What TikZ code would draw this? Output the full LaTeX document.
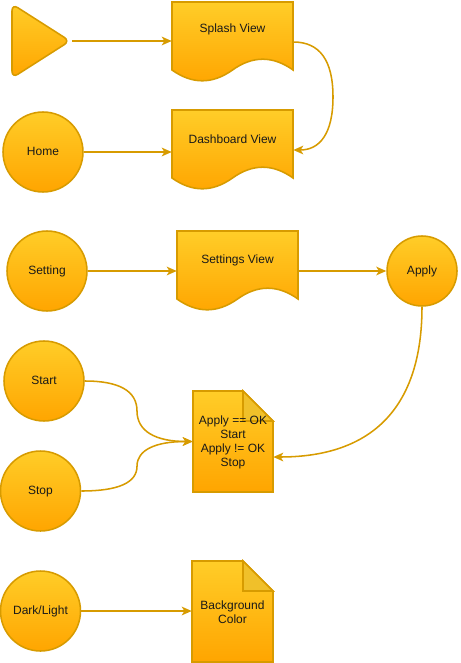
\documentclass[tikz,border=0pt]{standalone}
\usepackage{fontspec}
\setmainfont{Liberation Sans}
\usetikzlibrary{arrows.meta,calc}
\definecolor{fillTop}{HTML}{FFCD28}
\definecolor{fillBot}{HTML}{FFA500}
\definecolor{strk}{HTML}{D79B00}
\definecolor{foldc}{HTML}{F0C02A}
\tikzset{
  txt/.style={font=\fontsize{9}{10.5}\selectfont, align=center, inner sep=0pt, text=black!90},
  one/.style={text height=6.8pt, text depth=2pt},
  shp/.style={draw=strk, line width=1.15pt, top color=fillTop, bottom color=fillBot},
  circ/.style={shp, circle, inner sep=0pt, minimum size=#1, txt, one},
  circ/.default=60pt,
  frame/.style={rectangle, inner sep=0pt},
  conn/.style={draw=strk, line width=1.15pt, -{Stealth[length=7.5pt,width=6.5pt,inset=2pt]}},
}
% document shape: name, x, y, w, h (pixel units)
\newcommand\mydocshape[5]{%
  \path[shp] (#2,#3) -- ({#2+#4},#3) -- ({#2+#4},{#3+0.85*#5})
    .. controls ({#2+0.8333*#4},{#3+0.67*#5}) and ({#2+0.6667*#4},{#3+0.67*#5}) .. ({#2+0.5*#4},{#3+0.85*#5})
    .. controls ({#2+0.3333*#4},{#3+1.03*#5}) and ({#2+0.1667*#4},{#3+1.03*#5}) .. (#2,{#3+0.85*#5}) -- cycle;
  \node[frame, minimum width={#4*0.75pt}, minimum height={#5*0.75pt}] (#1) at ({#2+0.5*#4},{#3+0.5*#5}) {};
}
% note shape: name, x, y, w, h, fold
\newcommand\mynoteshape[6]{%
  \path[shp] (#2,#3) -- ({#2+#4-#6},#3) -- ({#2+#4},{#3+#6}) -- ({#2+#4},{#3+#5}) -- (#2,{#3+#5}) -- cycle;
  \path[draw=strk, line width=1.15pt, fill=foldc] ({#2+#4-#6},#3) -- ({#2+#4-#6},{#3+#6}) -- ({#2+#4},{#3+#6}) -- cycle;
  \node[frame, minimum width={#4*0.75pt}, minimum height={#5*0.75pt}] (#1) at ({#2+0.5*#4},{#3+0.5*#5}) {};
}
\begin{document}
\begin{tikzpicture}[x=0.75pt,y=-0.75pt]
\useasboundingbox (0,0) rectangle (460,663);

% row 1
\path[shp, rounded corners=5pt] (12,4) -- (70,41) -- (12,78) -- cycle;
\coordinate (play) at (72,41);
\mydocshape{splash}{172}{2}{121}{80}
\node[txt, one] (splashT) at (232.5,29.5) {Splash View};

% row 2
\node[circ] (home) at (43,152) {Home};
\mydocshape{dash}{172}{110}{121}{80}
\node[txt, one] (dashT) at (232.5,140.5) {Dashboard View};

% row 3
\node[circ] (setting) at (47,271) {Setting};
\mydocshape{settings}{177}{231}{121}{80}
\node[txt, one] (settingsT) at (237.5,260.5) {Settings View};
\node[circ=52.5pt] (apply) at (422,271) {Apply};

% row 4
\node[circ] (start) at (44,381) {Start};
\node[circ] (stop) at (40.5,491) {Stop};
\mynoteshape{note}{193}{391}{80}{101}{30}
\node[txt] (noteT) at (233,442.5) {Apply == OK\\Start\\Apply != OK\\Stop};

% row 5
\node[circ] (dark) at (40.5,611) {Dark/Light};
\mynoteshape{bg}{192}{561}{81}{101}{30}
\node[txt] (bgT) at (232.5,612) {Background\\Color};

% connectors
\draw[conn] (play) -- (play -| splash.west);
\draw[conn] (home.east) -- (home.east -| dash.west);
\draw[conn] (splash.east) .. controls (319.7,42) and (333,60.3) .. (333,97)
  .. controls (333,133.7) and (319.7,150) .. (dash.east);
\draw[conn] (setting.east) -- (settings.west);
\draw[conn] (settings.east) -- (apply.west);
\draw[conn] (apply.south) .. controls (422,406.7) and (373,457) .. ($(note.east)+(0,15.5)$);
\draw[conn] (start.east) .. controls (119.3,381) and (137,391) .. (137,411)
  .. controls (137,431.3) and (155.7,441.5) .. (note.west);
\draw[conn] (stop.east) .. controls (118.2,491) and (137,482.75) .. (137,466.25)
  .. controls (137,449.75) and (155.7,441.5) .. (note.west);
\draw[conn] (dark.east) -- (dark.east -| bg.west);
\end{tikzpicture}
\end{document}
